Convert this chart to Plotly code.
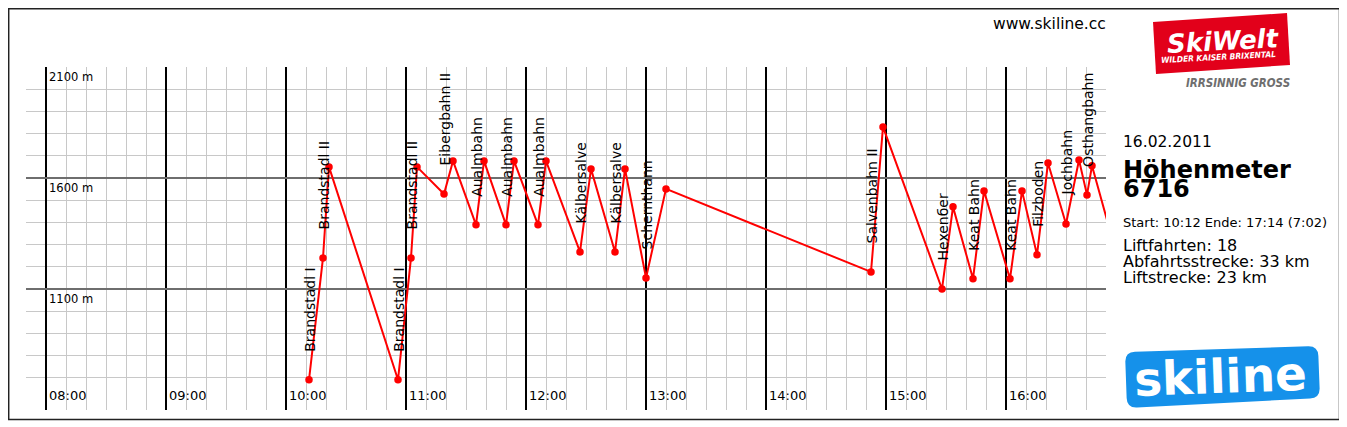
import plotly.graph_objects as go

# skiline day profile 16.02.2011
day = "2011-02-16 "

times = ["10:11:30", "10:18:30", "10:21:30", "10:56:00", "11:02:30", "11:05:30",
         "11:19:00", "11:23:30", "11:35:00", "11:39:00", "11:50:00", "11:54:00",
         "12:06:00", "12:10:00", "12:27:00", "12:32:30", "12:44:30", "12:49:30",
         "13:00:00", "13:10:00", "14:52:30", "14:58:30", "15:28:00", "15:33:30",
         "15:43:30", "15:49:00", "16:02:00", "16:08:00", "16:15:30", "16:21:00",
         "16:30:00", "16:36:30", "16:40:30", "16:43:00", "17:14:00"]
elev = [691, 1240, 1650, 691, 1240, 1650,
        1528, 1677, 1389, 1677, 1389, 1677,
        1389, 1677, 1267, 1641, 1267, 1641,
        1150, 1551, 1177, 1830, 1100, 1470,
        1146, 1542, 1146, 1542, 1254, 1668,
        1393, 1681, 1524, 1655, 650]

# index of the valley point of each lift ride, and the lift name
lift_idx = [0, 1, 3, 4, 6, 8, 10, 12, 14, 16, 18, 20, 22, 24, 26, 28, 30, 32]
lift_names = ["Brandstadl I", "Brandstadl II", "Brandstadl I", "Brandstadl II",
              "Eibergbahn II", "Aualmbahn", "Aualmbahn", "Aualmbahn",
              "Kälbersalve", "Kälbersalve", "Schernthann", "Salvenbahn II",
              "Hexenбer", "Keat Bahn", "Keat Bahn", "Filzboden", "Jochbahn",
              "Osthangbahn"]

hour_ticks = ["08:00", "09:00", "10:00", "11:00", "12:00", "13:00", "14:00", "15:00", "16:00"]
elev_ticks = [2100, 1600, 1100]
elev_labels = ["2100 m", "1600 m", "1100 m"]

info_date = "16.02.2011"
info_title = "Höhenmeter"
info_total = "6716"
info_time = "Start: 10:12 Ende: 17:14 (7:02)"
info_lines = ["Liftfahrten: 18", "Abfahrtsstrecke: 33 km", "Liftstrecke: 23 km"]

# page body has an 8px margin, so the figure starts at (8, 8) of the window
OFF = 8
W, H = 1347 - OFF, 427 - OFF
L, R, T, B = 26, 1106, 67, 410   # plot area in window pixels


def px(x):
    return (x - L) / (R - L)


def py(y):
    return (B - y) / (B - T)


def poly(points):
    return "M " + " L ".join("%.5f,%.5f" % (px(a), py(b)) for a, b in points) + " Z"


def round_poly(pts, r):
    # rounded quad from 4 corners (pixel coords)
    out = []
    n = len(pts)
    for i in range(n):
        p0 = pts[i - 1]
        p1 = pts[i]
        p2 = pts[(i + 1) % n]
        d1 = ((p0[0] - p1[0]) ** 2 + (p0[1] - p1[1]) ** 2) ** 0.5
        d2 = ((p2[0] - p1[0]) ** 2 + (p2[1] - p1[1]) ** 2) ** 0.5
        a = (p1[0] + (p0[0] - p1[0]) * r / d1, p1[1] + (p0[1] - p1[1]) * r / d1)
        b = (p1[0] + (p2[0] - p1[0]) * r / d2, p1[1] + (p2[1] - p1[1]) * r / d2)
        out.append(("L" if out else "M") + " %.5f,%.5f" % (px(a[0]), py(a[1])))
        out.append("Q %.5f,%.5f %.5f,%.5f" % (px(p1[0]), py(p1[1]), px(b[0]), py(b[1])))
    return " ".join(out) + " Z"


x = [day + t for t in times]

fig = go.Figure()
fig.add_trace(go.Scatter(x=x, y=elev, mode="lines+markers",
                         line=dict(color="#ff0000", width=2),
                         marker=dict(color="#ff0000", size=7.5),
                         hoverinfo="skip", showlegend=False))

fnt = "DejaVu Sans"
ann = []
for i, name in zip(lift_idx, lift_names):
    ann.append(dict(x=x[i], y=elev[i], xref="x", yref="y", text=name, textangle=-90,
                    showarrow=False, xanchor="center", yanchor="bottom", yshift=26, xshift=1,
                    font=dict(family=fnt, size=14, color="black")))
for h in hour_ticks:
    ann.append(dict(x=day + h, y=0, xref="x", yref="paper", text=h, showarrow=False,
                    xanchor="left", yanchor="middle", xshift=1, yshift=15,
                    font=dict(family=fnt, size=13, color="black")))
for v, t in zip(elev_ticks, elev_labels):
    ann.append(dict(x=day + "08:00", y=v, xref="x", yref="y", text=t, showarrow=False,
                    xanchor="left", yanchor="top", xshift=1, yshift=-1,
                    font=dict(family=fnt, size=11.5, color="black")))


def note(xp, yp, text, size, anchor="left", **kw):
    f = dict(family=kw.pop("family", fnt), size=size, color=kw.pop("color", "black"))
    f.update(kw.pop("font", {}))
    d = dict(x=px(xp), y=py(yp), xref="paper", yref="paper", text=text, showarrow=False,
             xanchor=anchor, yanchor="middle", borderpad=0, font=f)
    d.update(kw)
    ann.append(d)


# header and info panel
note(1107, 24, "www.skiline.cc", 15.5, anchor="right")
note(1122, 142, info_date, 15.5)
note(1122, 170, "<b>%s</b>" % info_title, 24)
note(1122, 189, "<b>%s</b>" % info_total, 24)
note(1122, 222, info_time, 13)
for k, line in enumerate(info_lines):
    note(1122, 245 + 16 * k, line, 16)

# SkiWelt logo
note(1223, 41, "SkiWelt", 26, anchor="center", color="white", textangle=-3,
     font=dict(weight="bold", style="italic"))
note(1218, 57, "WILDER KAISER BRIXENTAL", 8.3, anchor="center", color="white", textangle=-3,
     family="DejaVu Sans Condensed", font=dict(weight="bold", style="italic"))
note(1238, 83, "IRRSINNIG GROSS", 11.5, anchor="center", color="#6e6e6e",
     family="DejaVu Sans Condensed", font=dict(weight="bold", style="italic"))
# skiline logo
note(1220, 376, "skiline", 47, anchor="center", color="white", textangle=-2,
     font=dict(weight="bold"))

shapes = [
    dict(type="rect", xref="paper", yref="paper", x0=px(8.7), x1=px(1339.5), y0=py(8.7), y1=py(419.5),
         line=dict(color="#222222", width=1.5), layer="below"),
    dict(type="path", xref="paper", yref="paper",
         path=poly([(1153, 22), (1287, 13), (1290, 65), (1156, 74)]),
         fillcolor="#e2001a", line=dict(width=0), layer="below"),
    dict(type="path", xref="paper", yref="paper",
         path=round_poly([(1125, 352), (1318, 346), (1320, 398), (1127, 408)], 10),
         fillcolor="#1591ea", line=dict(width=0), layer="below"),
]

minor_y = [v for v in range(700, 2100, 100) if v not in elev_ticks]

fig.update_xaxes(type="date", range=[day + "07:50", day + "16:50"],
                 tick0=day + "08:00", dtick=3600000,
                 showgrid=True, gridcolor="black", gridwidth=1.5,
                 minor=dict(dtick=600000, showgrid=True, gridcolor="#c8c8c8", gridwidth=1),
                 showticklabels=False, zeroline=False, showline=False, fixedrange=True)
fig.update_yaxes(range=[555, 2100], tickmode="array", tickvals=elev_ticks,
                 showgrid=True, gridcolor="#6e6e6e", gridwidth=2,
                 minor=dict(tickmode="array", tickvals=minor_y, showgrid=True,
                            gridcolor="#c8c8c8", gridwidth=1),
                 showticklabels=False, zeroline=False, showline=False, fixedrange=True)

fig.update_layout(width=W, height=H,
                  margin=dict(l=L - OFF, r=W - (R - OFF), t=T - OFF, b=H - (B - OFF)),
                  plot_bgcolor="white", paper_bgcolor="white",
                  annotations=ann, shapes=shapes, showlegend=False)

fig.write_html("out.html", config={"displayModeBar": False})
